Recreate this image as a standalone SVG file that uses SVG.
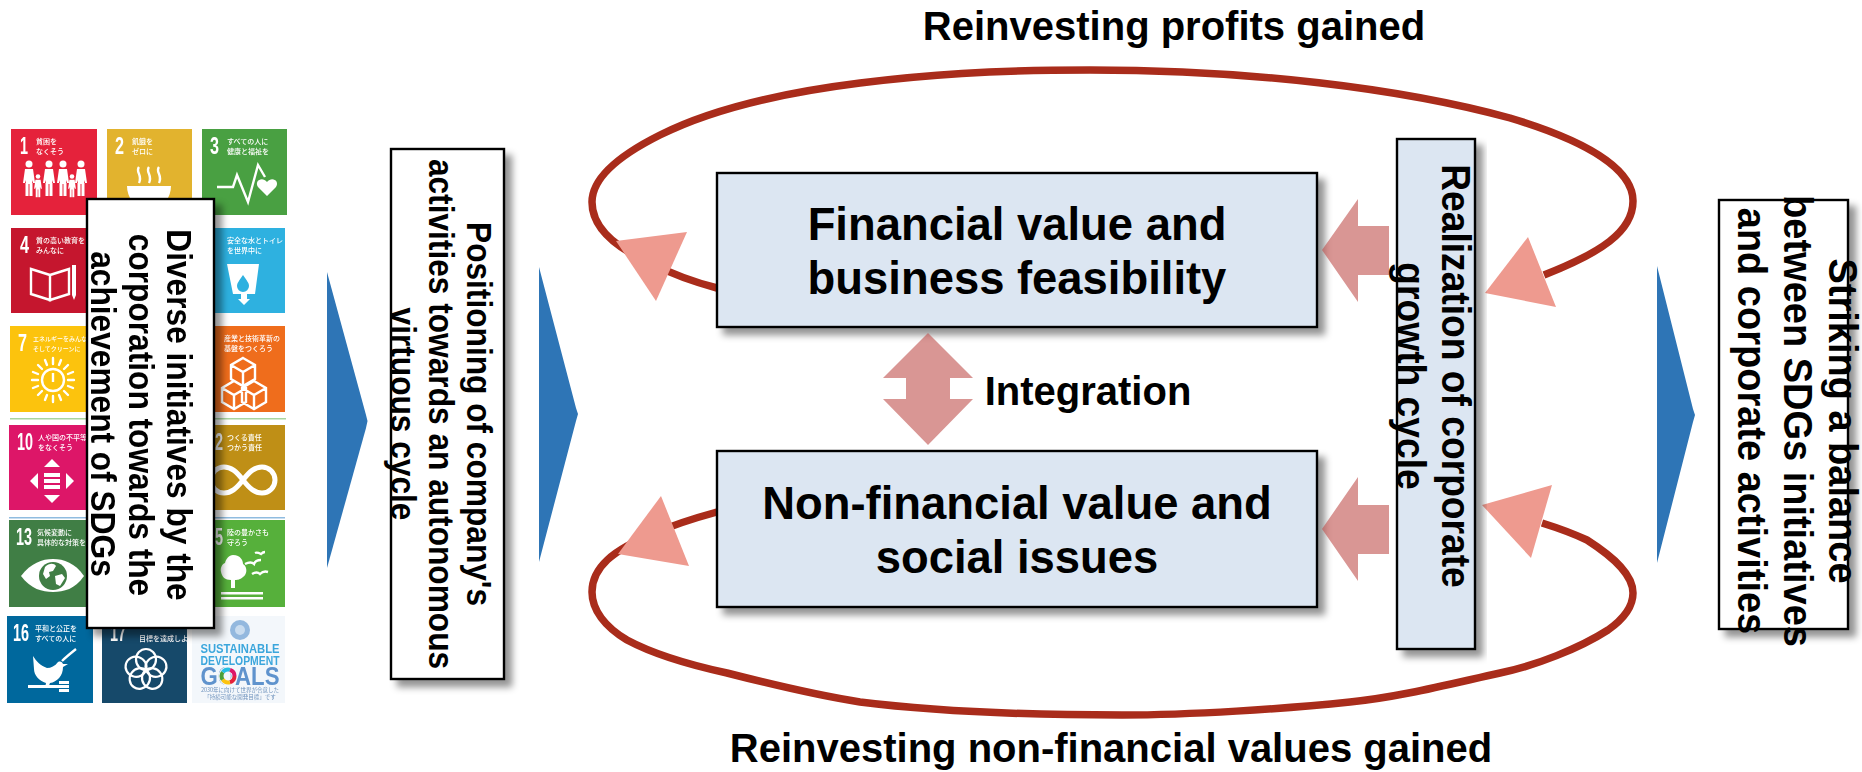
<svg xmlns="http://www.w3.org/2000/svg" xmlns:xlink="http://www.w3.org/1999/xlink" width="1862" height="772" viewBox="0 0 1862 772">
<style>
.lbl{font-family:"Liberation Sans",Arial,sans-serif;font-weight:700;fill:#000;text-anchor:middle}
.s36{font-size:36px}
.s40{font-size:40px}
.s45{font-size:45.400px}
.box{stroke:#000;stroke-width:2.4;filter:url(#sh)}
.white{fill:#fff}
.blue{fill:#dce6f2}
.loop{fill:none;stroke:#a92c1b;stroke-width:7.500}
.head{fill:#ee9a8f}
.pink{fill:#c0504d;fill-opacity:.6}
.chev{fill:#2e75b6}
.n{font-family:"Liberation Sans",Arial,sans-serif;font-weight:700;font-size:24px;fill:#fff}
.t{font-family:"Noto Sans CJK JP","Noto Sans",sans-serif;font-weight:500;font-size:7px;fill:#fff}
.i{fill:#fff}
.o{fill:none;stroke:#fff;stroke-width:2.4}
</style>
<defs>
<filter id="sh" x="-10%" y="-10%" width="125%" height="125%"><feDropShadow dx="7" dy="7" stdDeviation="3.500" flood-color="#000" flood-opacity=".42"/></filter>
<filter id="soft" x="0" y="0" width="100%" height="100%"><feGaussianBlur stdDeviation=".45"/></filter>
<g id="p"><circle cx="0" cy="-24" r="3.500"/><path d="M-4-19h8l2 14h-2l-1 -3V-4h-6V-8l-1 3h-2z"/><rect x="-3.500" y="-5" width="3" height="13"/><rect x=".5" y="-5" width="3" height="13"/></g>
<ellipse id="ring" cx="0" cy="-10.5" rx="10" ry="10.5" fill="none" stroke="#fff" stroke-width="2.2"/>
</defs>
<rect width="1862" height="772" fill="#fff"/>

<g id="sdg-tiles" filter="url(#soft)">
<rect x="10" y="418" width="276" height="1.5" fill="#a9d6a0"/>
<rect x="9" y="517" width="276" height="1.5" fill="#8fbce0"/>
<g transform="translate(11,129)"><rect width="86" height="86" fill="#e5243b"/><text class="n" x="9" y="25" textLength="8" lengthAdjust="spacingAndGlyphs">1</text><text class="t" x="25" y="14.5">貧困を</text><text class="t" x="25" y="24.5">なくそう</text>
<g class="i"><use xlink:href="#p" x="18" y="59"/><use xlink:href="#p" x="38" y="59"/><use xlink:href="#p" x="52" y="59"/><use xlink:href="#p" x="70" y="59"/><g transform="translate(27,63) scale(.65)"><use xlink:href="#p"/></g><g transform="translate(61,63) scale(.65)"><use xlink:href="#p"/></g></g></g>
<g transform="translate(107,129)"><rect width="85" height="86" fill="#e2b32d"/><text class="n" x="8" y="25" textLength="9" lengthAdjust="spacingAndGlyphs">2</text><text class="t" x="25" y="14.5">飢餓を</text><text class="t" x="25" y="24.5">ゼロに</text>
<path class="o" d="M32 38c-4 5 4 8 0 16M42 38c-4 5 4 8 0 16M52 38c-4 5 4 8 0 16"/><path class="i" d="M20 57h44c0 12-8 20-15 22H35c-7-2-15-10-15-22z"/></g>
<g transform="translate(202,129)"><rect width="85" height="86" fill="#4aa042"/><text class="n" x="8" y="25" textLength="9" lengthAdjust="spacingAndGlyphs">3</text><text class="t" x="25" y="14.5">すべての人に</text><text class="t" x="25" y="24.5">健康と福祉を</text>
<path class="o" d="M15 58h16l4-12 11 27 10-37 7 12"/><path class="i" d="M65 67l-9-9c-4-6 4-11 9-5 5-6 13-1 9 5z"/></g>
<g transform="translate(11,228)"><rect width="86" height="85" fill="#c5192d"/><text class="n" x="9" y="25" textLength="9" lengthAdjust="spacingAndGlyphs">4</text><text class="t" x="25" y="14.5">質の高い教育を</text><text class="t" x="25" y="24.5">みんなに</text>
<path class="o" d="M20 41l19 6v25l-19-6zM58 41l-19 6v25l19-6z"/><path class="i" d="M61 37h4v30l-2 5-2-5z"/></g>
<g transform="translate(200,228)"><rect width="85" height="85" fill="#2eb1e0"/><text class="t" x="27" y="14.5">安全な水とトイレ</text><text class="t" x="27" y="24.5">を世界中に</text>
<path class="i" d="M27 36h32l-4 30h-8v5h3l-6 6-6-6h3v-5h-8z"/><path d="M43 47c-4 6-6 8-6 11a6 6 0 0012 0c0-3-2-5-6-11z" fill="#2eb1e0"/></g>
<g transform="translate(10,326)"><rect width="86" height="86" fill="#fcc30b"/><text class="n" x="8" y="25" textLength="9" lengthAdjust="spacingAndGlyphs">7</text><text class="t" x="23" y="14.5" font-size="6" style="font-size:6px">エネルギーをみんな</text><text class="t" x="23" y="24.5" style="font-size:6px">そしてクリーンに</text>
<g transform="translate(43,54)"><circle r="11" class="o"/><path class="o" d="M0-7V2"/><path class="o" stroke-linecap="round" d="M0-22V-16M0 22V16M-21 0H-15M21 0H15M-15-15l4 4M15-15l-4 4M-15 15l4-4M15 15l-4-4M-8-20l2 5M8-20l-2 5M-8 20l2-5M8 20l-2-5M-20-8l5 2M20-8l-5 2M-20 8l5-2M20 8l-5-2"/></g></g>
<g transform="translate(200,326)"><rect width="85" height="86" fill="#ef6d1e"/><text class="t" x="24" y="14.5">産業と技術革新の</text><text class="t" x="24" y="24.5">基盤をつくろう</text>
<path class="o" d="M43 32l12 7v14l-12 7-12-7V39zM31 39l12 7 12-7M43 46v14M34 55l12 7v14l-12 7-12-7V62zM22 62l12 7 12-7M34 69v14M54 55l12 7v14l-12 7-12-7V62zM42 62l12 7 12-7M54 69v14"/></g>
<g transform="translate(9,425)"><rect width="86" height="85" fill="#dd1367"/><text class="n" x="8" y="25" textLength="16" lengthAdjust="spacingAndGlyphs">10</text><text class="t" x="29" y="14.5">人や国の不平等</text><text class="t" x="29" y="24.5">をなくそう</text>
<g class="i" transform="translate(43,56)"><path d="M0-22l8 8H-8zM0 22l8-8H-8zM-22 0l8-8V8zM22 0l-8-8V8z"/><rect x="-8" y="-8" width="16" height="4"/><rect x="-8" y="-2" width="16" height="4"/><rect x="-8" y="4" width="16" height="4"/></g></g>
<g transform="translate(200,425)"><rect width="85" height="85" fill="#bf8f12"/><text class="n" x="15" y="25" textLength="8" lengthAdjust="spacingAndGlyphs">2</text><text class="t" x="27" y="14.5">つくる責任</text><text class="t" x="27" y="24.5">つかう責任</text>
<path d="M43 55c-7-9-12-13-19-13a13 13 0 000 26c7 0 12-4 19-13s12-13 19-13a13 13 0 010 26c-7 0-12-4-19-13z" fill="none" stroke="#fff" stroke-width="5"/></g>
<g transform="translate(9,520)"><rect width="86" height="87" fill="#3f7e44"/><text class="n" x="7" y="25" textLength="16" lengthAdjust="spacingAndGlyphs">13</text><text class="t" x="28" y="14.5">気候変動に</text><text class="t" x="28" y="24.5">具体的な対策を</text>
<path class="i" d="M12 56c10-13 21-17 32-17s22 4 31 17c-9 13-20 16-31 16s-22-3-32-16z"/><circle cx="44" cy="56" r="14" fill="#3f7e44"/><path class="i" d="M36 47c4-4 9-4 11-1l-3 5-4 1 1 4-4 3-3-5zM46 56l7-2 3 4-5 8-4-2z"/></g>
<g transform="translate(200,520)"><rect width="85" height="87" fill="#56b03a"/><text class="n" x="15" y="25" textLength="8" lengthAdjust="spacingAndGlyphs">5</text><text class="t" x="27" y="14.5">陸の豊かさも</text><text class="t" x="27" y="24.5">守ろう</text>
<path class="i" d="M33 35c8 0 10 6 10 9 5 3 4 11 0 13-3 3-7 3-8 3h-4c-6 0-9-3-10-8-1-4 1-8 4-9 1-4 4-8 8-8z"/><rect class="i" x="31" y="60" width="4" height="8"/><rect class="i" x="21" y="72" width="42" height="2.5"/><rect class="i" x="21" y="77" width="42" height="2.5"/><path class="o" stroke-width="1.6" d="M45 44c4-2 7-2 9 0 1-3 4-4 7-4M55 33c2-1 4 0 6 1 1-1 2-2 4-2M52 54c3-2 6-2 8 0 2-2 5-3 8-2"/></g>
<g transform="translate(7,616)"><rect width="86" height="87" fill="#00689d"/><text class="n" x="6" y="25" textLength="16" lengthAdjust="spacingAndGlyphs">16</text><text class="t" x="28" y="14.5">平和と公正を</text><text class="t" x="28" y="24.5">すべての人に</text>
<path class="i" d="M26 40c3 5 8 10 14 12 4 0 8-2 11-6 3-1 4 0 5 2l5 0-5 3c0 9-6 15-13 16l-2 5h-3l1-5c-7-2-12-8-12-14z"/><path class="o" stroke-width="2" d="M55 45c4-4 9-8 14-12"/><rect class="i" x="21" y="69" width="36" height="3"/><rect class="i" x="52" y="65" width="10" height="3"/><rect class="i" x="52" y="69" width="10" height="3"/><rect class="i" x="52" y="73" width="10" height="3"/></g>
<g transform="translate(102,616)"><rect width="85" height="87" fill="#19486a"/><text class="n" x="8" y="25" textLength="16" lengthAdjust="spacingAndGlyphs">17</text><text class="t" x="37" y="24.5">目標を達成しよう</text>
<g transform="translate(44,54)"><use xlink:href="#ring"/><use xlink:href="#ring" transform="rotate(72)"/><use xlink:href="#ring" transform="rotate(144)"/><use xlink:href="#ring" transform="rotate(216)"/><use xlink:href="#ring" transform="rotate(288)"/></g></g>
<g transform="translate(192,616)"><rect width="93" height="87" fill="#f3f7fb"/>
<circle cx="48" cy="14" r="10" fill="#93b8de"/><circle cx="48" cy="14" r="5" fill="#c9dcef"/>
<text x="48" y="37" font-family="Liberation Sans,Arial,sans-serif" font-weight="700" font-size="13" fill="#3ba6dc" text-anchor="middle" textLength="79" lengthAdjust="spacingAndGlyphs">SUSTAINABLE</text>
<text x="48" y="49" font-family="Liberation Sans,Arial,sans-serif" font-weight="700" font-size="13" fill="#3ba6dc" text-anchor="middle" textLength="79" lengthAdjust="spacingAndGlyphs">DEVELOPMENT</text>
<text x="48" y="69" font-family="Liberation Sans,Arial,sans-serif" font-weight="700" font-size="26" fill="#5f93cd" text-anchor="middle" textLength="79" lengthAdjust="spacingAndGlyphs">GOALS</text>
<g fill="none" stroke-width="4" transform="translate(36,60)"><circle r="6.5" stroke="#f4f7fb" stroke-width="6"/><circle r="6.5" stroke="#e5243b" stroke-dasharray="8 33"/><circle r="6.5" stroke="#fcc30b" stroke-dasharray="8 33" stroke-dashoffset="-8"/><circle r="6.5" stroke="#4c9f38" stroke-dasharray="8 33" stroke-dashoffset="-16"/><circle r="6.5" stroke="#26bde2" stroke-dasharray="8 33" stroke-dashoffset="-24"/><circle r="6.5" stroke="#dd1367" stroke-dasharray="8 33" stroke-dashoffset="-32"/></g>
<text x="48" y="76" font-family="Noto Sans CJK JP,sans-serif" font-size="5.5" fill="#6f93bd" text-anchor="middle">2030年に向けて世界が合意した</text>
<text x="48" y="83" font-family="Noto Sans CJK JP,sans-serif" font-size="5.5" fill="#6f93bd" text-anchor="middle">「持続可能な開発目標」です</text></g>
</g>

<g id="connectors">
<path class="chev" d="M327 272L366 415L367.500 421L366 428L327 568Z"/>
<path class="chev" d="M539 267L576 408L578 414L576 421L539 562Z"/>
<path class="chev" d="M1657 266L1693 409L1695 415L1693 422L1657 563Z"/>
<path class="loop" d="M717 288C690 281 668 272 650 263C612 246 592 226 592 202C592 178 620 155 660 135C710 110 780 93 860 83C925 75 990 70 1090 70C1250 70 1400 88 1510 118C1590 142 1633 170 1633 201C1633 232 1600 253 1544 275"/>
<path class="loop" d="M717 512C695 518 673 525 655 533C612 550 592 568 592 592C592 610 605 627 627 640C655 655 690 665 727 673C770 684 815 695 860 702C940 712 1030 715 1122 715C1190 715 1283 709 1350 702C1400 697 1450 684 1500 673C1535 666 1580 648 1608 630C1625 618 1633 606 1633 593C1633 575 1615 558 1587 540C1572 533 1558 528 1542 523"/>
<polygon class="head" points="687,232 616,241 656,301"/>
<polygon class="head" points="1528,237 1485,293 1556,307"/>
<polygon class="head" points="661,496 618,554 689,566"/>
<polygon class="head" points="1552,485 1482,505 1531,558"/>
</g>

<g id="node-financial"><rect class="box blue" x="717" y="173" width="600" height="154"/><text class="lbl s45" x="1017" y="240">Financial value and</text><text class="lbl s45" x="1017" y="294">business feasibility</text></g>
<g id="node-nonfinancial"><rect class="box blue" x="717" y="451" width="600" height="156"/><text class="lbl s45" x="1017" y="519">Non-financial value and</text><text class="lbl s45" x="1017" y="573">social issues</text></g>
<g id="node-realization"><rect class="box blue" x="1397" y="139" width="78" height="510"/></g>
<g id="arrows">
<polygon class="pink" points="1322,250 1358,199 1358,226 1389,226 1389,275 1358,275 1358,302"/>
<polygon class="pink" points="1322,529 1358,477 1358,505 1389,505 1389,554 1358,554 1358,581"/>
<polygon class="pink" points="928,333 973,378 950,378 950,399 973,399 928,445 883,399 906,399 906,378 883,378"/>
</g>
<g id="label-integration"><text class="lbl s40" x="1088" y="405">Integration</text></g>
<g id="label-top"><text class="lbl s40" x="1174" y="40">Reinvesting profits gained</text></g>
<g id="label-bottom"><text class="lbl s40" x="1111" y="762">Reinvesting non-financial values gained</text></g>

<g id="node-diverse"><rect class="box white" x="87" y="199" width="127" height="429"/>
<text class="lbl s36" transform="translate(167,415) rotate(90) scale(.88,1)">Diverse initiatives by the</text>
<text class="lbl s36" transform="translate(129,415) rotate(90) scale(.88,1)">corporation towards the</text>
<text class="lbl s36" transform="translate(91,414) rotate(90) scale(.88,1)">achievement of SDGs</text></g>
<g id="node-positioning"><rect class="box white" x="391" y="149" width="113" height="530"/>
<text class="lbl s36" transform="translate(467,414) rotate(90) scale(.88,1)">Positioning of company's</text>
<text class="lbl s36" transform="translate(429,414) rotate(90) scale(.88,1)">activities towards an autonomous</text>
<text class="lbl s36" transform="translate(391,414) rotate(90) scale(.88,1)">virtuous cycle</text></g>
<g id="node-striking"><rect class="box white" x="1719" y="200" width="129" height="429"/>
<text class="lbl s40" transform="translate(1829,421) rotate(90) scale(.95,1)">Striking a balance</text>
<text class="lbl s40" transform="translate(1784,421) rotate(90) scale(.95,1)">between SDGs initiatives</text>
<text class="lbl s40" transform="translate(1738,421) rotate(90) scale(.95,1)">and corporate activities</text></g>
<g id="label-realization">
<text class="lbl s40" transform="translate(1442,376) rotate(90) scale(.93,1)">Realization of corporate</text>
<text class="lbl s40" transform="translate(1397,376) rotate(90) scale(.93,1)">growth cycle</text></g>
</svg>
